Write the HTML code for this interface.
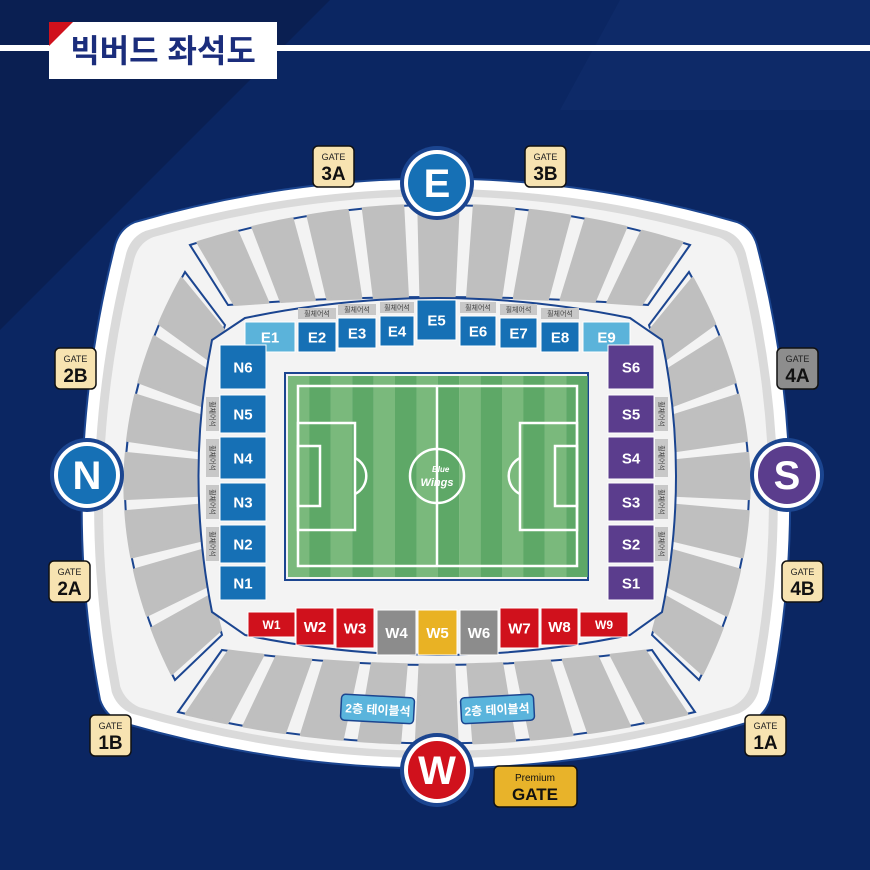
<!DOCTYPE html>
<html><head><meta charset="utf-8"><style>
html,body{margin:0;padding:0;width:870px;height:870px;overflow:hidden;background:#0a2460}
svg{display:block}
text{font-family:"Liberation Sans","Noto Sans CJK KR",sans-serif}
</style></head><body>
<svg id="map" width="870" height="870" viewBox="0 0 870 870">
<rect width="870" height="870" fill="#0b2662"/>
<polygon points="0,0 330,0 0,330" fill="#0a1f52"/>
<polygon points="620,0 870,0 870,110 560,110" fill="#102d6d" opacity="0.6"/>
<rect x="0" y="45" width="870" height="6" fill="#ffffff"/>
<g>
<rect x="49" y="22" width="228" height="57" fill="#ffffff"/>
<polygon points="49,22 73,22 49,46" fill="#d0111c"/>
<text x="163" y="62" text-anchor="middle" font-size="32" font-weight="bold" fill="#1b2d7c">빅버드 좌석도</text>
</g>
<g>
<path d="M135,222 Q437,135 737,222 Q752,228 757,245 Q816,475 770,700 Q765,715 750,722 Q437,815 120,722 Q105,715 100,700 Q57,475 115,245 Q120,228 135,222 Z" fill="#ffffff" stroke="#1b4590" stroke-width="2"/>
<path d="M135,222 Q437,135 737,222 Q752,228 757,245 Q816,475 770,700 Q765,715 750,722 Q437,815 120,722 Q105,715 100,700 Q57,475 115,245 Q120,228 135,222 Z" fill="#dadada" transform="translate(437,475) scale(0.965) translate(-437,-475)"/>
<path d="M135,222 Q437,135 737,222 Q752,228 757,245 Q816,475 770,700 Q765,715 750,722 Q437,815 120,722 Q105,715 100,700 Q57,475 115,245 Q120,228 135,222 Z" fill="#f3f3f3" transform="translate(437,475) scale(0.94) translate(-437,-475)"/>
</g>
<g id="tiers"></g>
<path d="M245,318 Q437,278 630,318 L662,340 Q690,476 662,612 L630,635 Q437,675 245,635 L212,612 Q185,476 212,340 Z" fill="#f3f3f3" stroke="#1b4590" stroke-width="2"/>
<g id="blocks"></g>
<g>
<rect x="285" y="373" width="303" height="207" fill="#f3f3f3" stroke="#1b4590" stroke-width="2"/>
<g id="stripes"></g>
<g fill="none" stroke="#ffffff" stroke-width="2.5">
<rect x="298" y="386" width="279" height="180"/>
<line x1="437" y1="386" x2="437" y2="566"/>
<circle cx="437" cy="476" r="27"/>
<rect x="298" y="423" width="57" height="107"/>
<rect x="298" y="446" width="22" height="60"/>
<path d="M355,458 A20,20 0 0 1 355,494"/>
<rect x="520" y="423" width="57" height="107"/>
<rect x="555" y="446" width="22" height="60"/>
<path d="M520,458 A20,20 0 0 0 520,494"/>
</g>
<text x="432" y="472" font-size="8" font-style="italic" font-weight="bold" fill="#fff">Blue</text>
<text x="437" y="486" text-anchor="middle" font-size="11" font-style="italic" font-weight="bold" fill="#fff">Wings</text>
</g>
<g transform="rotate(3 378 709)">
<rect x="341" y="696" width="73" height="26" rx="4" fill="#5ab4dc" stroke="#1b4590" stroke-width="1.5"/>
<text x="378" y="714" text-anchor="middle" font-size="12" font-weight="bold" fill="#fff">2층 테이블석</text>
</g>
<g transform="rotate(-3 497 709)">
<rect x="461" y="696" width="73" height="26" rx="4" fill="#5ab4dc" stroke="#1b4590" stroke-width="1.5"/>
<text x="497" y="714" text-anchor="middle" font-size="12" font-weight="bold" fill="#fff">2층 테이블석</text>
</g>
<g id="badges"></g>
<g id="gates"></g>
<g>
<rect x="494" y="766" width="83" height="41" rx="5" fill="#e8b32a" stroke="#111" stroke-width="1.5"/>
<text x="535" y="781" text-anchor="middle" font-size="10" fill="#111">Premium</text>
<text x="535" y="800" text-anchor="middle" font-size="17" font-weight="bold" fill="#111">GATE</text>
</g>
</svg>
<script>
var NS="http://www.w3.org/2000/svg";
function el(tag,attrs,parent){var e=document.createElementNS(NS,tag);for(var k in attrs)e.setAttribute(k,attrs[k]);parent.appendChild(e);return e;}
function q(p0,p1,p2,t){var u=1-t;return [u*u*p0[0]+2*u*t*p1[0]+t*t*p2[0],u*u*p0[1]+2*u*t*p1[1]+t*t*p2[1]];}
var tiers=document.getElementById('tiers');
function band(o,i,n,name){
  var g=0.016;
  for(var k=0;k<n;k++){
    var a=k/n+g,b=(k+1)/n-g,pts=[];
    for(var s=0;s<=6;s++){var t=a+(b-a)*s/6;pts.push(q(o[0],o[1],o[2],t));}
    for(var s=6;s>=0;s--){var t=a+(b-a)*s/6;pts.push(q(i[0],i[1],i[2],t));}
    var p=el('polygon',{points:pts.map(function(p){return p.join(',');}).join(' '),fill:'#bfbfbf',stroke:'#bfbfbf','stroke-width':'3','stroke-linejoin':'round'},tiers);
    
    
  }
}
function outline(o,i){
  el('path',{d:'M'+o[0]+' Q'+o[1]+' '+o[2]+' L'+i[2]+' Q'+i[1]+' '+i[0]+' Z',fill:'#f3f3f3',stroke:'#1b4590','stroke-width':'2'},tiers);
}
var T=[[[190,245],[437,165],[690,245]],[[228,305],[437,289],[648,305]]];
var B=[[[178,712],[437,775],[695,712]],[[222,650],[437,680],[652,650]]];
var L=[[[185,272],[70,476],[175,680]],[[225,325],[176,476],[222,635]]];
var R=[[[689,272],[804,476],[699,680]],[[649,325],[698,476],[652,635]]];
[[T,9,'top'],[B,9,'bottom'],[L,7,'left'],[R,7,'right']].forEach(function(b){outline(b[0][0],b[0][1]);band(b[0][0],b[0][1],b[1],b[2]);});
var st=document.getElementById('stripes');
for(var k=0;k<14;k++){el('rect',{x:288+k*21.4,y:376,width:21.5,height:201,fill:k%2?'#5ea867':'#7ab97c'},st);}
var blocks=document.getElementById('blocks');
function block(x,y,w,h,fill,label,fs,name){
  var g=el('g',{},blocks);
  
  
  el('rect',{x:x,y:y,width:w,height:h,fill:fill,stroke:'#ffffff','stroke-width':'1'},g);
  var t=el('text',{x:x+w/2,y:y+h/2+fs*0.36,'text-anchor':'middle','font-size':fs,'font-weight':'bold',fill:'#fff'},g);
  t.textContent=label;
}
function wheel(x,y,w,h,vert){
  var g=el('g',{},blocks);
  
  
  el('rect',{x:x,y:y,width:w,height:h,fill:'#c8c8c8'},g);
  var t=el('text',{x:x+w/2,y:y+h/2+2.5,'text-anchor':'middle','font-size':'7',fill:'#444'},g);
  if(vert)t.setAttribute('transform','rotate(90 '+(x+w/2)+' '+(y+h/2)+')');
  t.textContent='휠체어석';
}
var eX=[245,298,338,380,417,460,500,541,583],eW=[50,38,38,34,39,36,37,38,47],eY=[322,322,318,316,300,316,318,322,322];
for(var k=0;k<9;k++){
  var c=(k==0||k==8)?'#5bb3da':'#1670b5';
  var h=(k==4)?40:(k==0||k==8?30:24);
  if(k!=0&&k!=8&&k!=4)wheel(eX[k],eY[k]-14,eW[k],11,false);
  block(eX[k],eY[k],eW[k],h+(k==4?0:(k==0||k==8?0:6)),c,'E'+(k+1),15,'section-e'+(k+1));
}
var nY=[566,525,483,437,395,345],nH=[34,38,38,42,38,44];
for(var k=0;k<6;k++){
  block(220,nY[k],46,nH[k],'#1670b5','N'+(k+1),15,'section-n'+(k+1));
  if(k>0&&k<5)wheel(206,nY[k]+2,13,nH[k]-4,true);
}
for(var k=0;k<6;k++){
  block(608,nY[k],46,nH[k],'#5b3d8d','S'+(k+1),15,'section-s'+(k+1));
  if(k>0&&k<5)wheel(655,nY[k]+2,13,nH[k]-4,true);
}
var wX=[248,296,336,377,418,460,500,541,580],wW=[47,38,38,39,39,38,39,37,48];
var wC=['#d0111c','#d0111c','#d0111c','#8c8c8c','#e9b224','#8c8c8c','#d0111c','#d0111c','#d0111c'];
var wY=[612,608,608,610,610,610,608,608,612],wH=[25,37,40,45,45,45,40,37,25];
for(var k=0;k<9;k++){block(wX[k],wY[k],wW[k],wH[k],wC[k],'W'+(k+1),(k==0||k==8)?12:15,'section-w'+(k+1));}
var badges=document.getElementById('badges');
[[437,183,'#1670b5','E'],[87,475,'#1670b5','N'],[787,475,'#5b3d8d','S'],[437,770,'#d0111c','W']].forEach(function(b){
  var g=el('g',{},badges);
  
  
  el('circle',{cx:b[0],cy:b[1],r:37,fill:'#1b4590'},g);
  el('circle',{cx:b[0],cy:b[1],r:33,fill:'#ffffff'},g);
  el('circle',{cx:b[0],cy:b[1],r:29,fill:b[2]},g);
  var t=el('text',{x:b[0],y:b[1]+14,'text-anchor':'middle','font-size':'40','font-weight':'bold',fill:'#fff'},g);
  t.textContent=b[3];
});
var gates=document.getElementById('gates');
[[313,146,'3A','#f7e3b1'],[525,146,'3B','#f7e3b1'],[55,348,'2B','#f7e3b1'],[777,348,'4A','#8d8d8d'],[49,561,'2A','#f7e3b1'],[782,561,'4B','#f7e3b1'],[90,715,'1B','#f7e3b1'],[745,715,'1A','#f7e3b1']].forEach(function(gt){
  var g=el('g',{},gates);
  
  
  el('rect',{x:gt[0],y:gt[1],width:41,height:41,rx:5,fill:gt[3],stroke:'#111','stroke-width':'1.5'},g);
  var t1=el('text',{x:gt[0]+20.5,y:gt[1]+14,'text-anchor':'middle','font-size':'9',fill:'#222'},g);t1.textContent='GATE';
  var t2=el('text',{x:gt[0]+20.5,y:gt[1]+34,'text-anchor':'middle','font-size':'19','font-weight':'bold',fill:'#111'},g);t2.textContent=gt[2];
});
</script>
</body></html>
